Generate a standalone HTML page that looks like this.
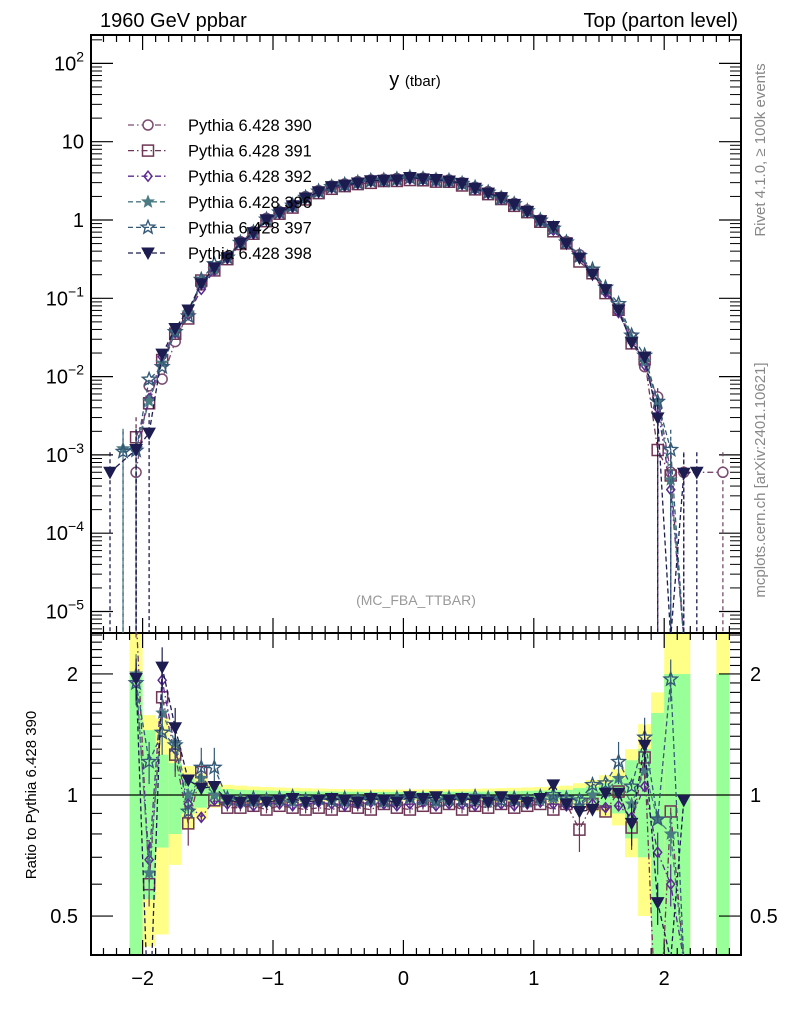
<!DOCTYPE html>
<html><head><meta charset="utf-8"><style>
body{margin:0;background:#fff}
svg{display:block;font-family:"Liberation Sans",sans-serif}
</style></head><body>
<svg id="chart" width="786" height="1024" viewBox="0 0 786 1024" xmlns="http://www.w3.org/2000/svg">
<defs>
<clipPath id="clipMain"><rect x="91" y="35" width="650" height="598"/></clipPath>
<clipPath id="clipRatio"><rect x="91" y="633" width="650" height="322"/></clipPath>
</defs>
<rect x="0" y="0" width="786" height="1024" fill="#fff"/>
<text x="100" y="27" font-size="20">1960 GeV ppbar</text>
<text x="738" y="27" font-size="20" text-anchor="end">Top (parton level)</text>
<text x="415" y="86" font-size="20" text-anchor="middle">y <tspan font-size="15">(tbar)</tspan></text>
<text x="416" y="605" font-size="14" fill="#999" text-anchor="middle">(MC_FBA_TTBAR)</text>
<text transform="translate(765,150) rotate(-90)" font-size="15" fill="#888" text-anchor="middle">Rivet 4.1.0, ≥ 100k events</text>
<text transform="translate(765,480) rotate(-90)" font-size="15" fill="#888" text-anchor="middle">mcplots.cern.ch [arXiv:2401.10621]</text>
<text transform="translate(36,795) rotate(-90)" font-size="15" text-anchor="middle">Ratio to Pythia 6.428 390</text>
<g id="bands" clip-path="url(#clipRatio)"></g>
<g id="axes"></g>
<g id="mainSeries" clip-path="url(#clipMain)"></g>
<g id="ratioSeries" clip-path="url(#clipRatio)"></g>
<g id="legend"></g>
</svg>
<script>
// ---- data ----
const binCenters = [-2.25,-2.15,-2.05,-1.95,-1.85,-1.75,-1.65,-1.55,-1.45,-1.35,-1.25,-1.15,-1.05,-0.95,-0.85,-0.75,-0.65,-0.55,-0.45,-0.35,-0.25,-0.15,-0.05,0.05,0.15,0.25,0.35,0.45,0.55,0.65,0.75,0.85,0.95,1.05,1.15,1.25,1.35,1.45,1.55,1.65,1.75,1.85,1.95,2.05,2.15,2.25,2.35,2.45];
const base390 = [0,0,6e-4,0.0076,0.0093,0.028,0.065,0.148,0.234,0.34,0.53,0.71,1.05,1.28,1.55,1.99,2.37,2.72,2.88,3.09,3.24,3.31,3.39,3.52,3.42,3.32,3.24,3.0,2.62,2.3,1.95,1.63,1.34,1.0,0.78,0.53,0.36,0.22,0.128,0.07,0.032,0.0134,0.0055,6e-4,6e-4,0,0,6e-4];
const r391 = [null,null,2.8,0.6,1.75,1.26,0.85,1.14,0.97,0.93,0.93,0.94,0.92,0.94,0.93,0.92,0.93,0.92,0.94,0.93,0.92,0.95,0.93,0.92,0.94,0.93,0.95,0.92,0.94,0.93,0.95,0.93,0.94,0.95,0.92,0.95,0.82,0.95,0.91,1.02,0.83,1.24,0.21,0.91,0,null,null,null];
const r392 = [null,null,1.9,0.69,1.93,1.3,0.95,0.88,0.97,0.95,0.95,0.94,0.96,0.95,0.94,0.95,0.96,0.95,0.94,0.95,0.96,0.95,0.94,0.95,0.96,0.94,0.95,0.95,0.94,0.96,0.95,0.94,0.95,0.96,0.95,0.94,0.92,0.95,0.93,0.94,0.88,1.05,0.72,0.6,0,null,null,null];
const r396 = [null,null,2.0,0.64,1.6,1.35,1.0,1.1,1.0,0.97,0.97,0.96,0.98,0.97,0.96,0.97,0.98,0.97,0.96,0.98,0.97,0.96,0.97,0.98,0.97,0.96,0.97,0.98,0.97,0.96,0.98,0.97,0.96,0.97,0.98,0.97,0.94,1.0,1.02,1.1,0.95,1.15,0.87,0.8,0,null,null,null];
const r397 = [null,null,1.9,1.21,1.43,1.33,0.91,1.17,1.17,0.98,0.97,0.98,0.97,0.98,0.99,0.97,0.98,0.97,0.98,0.97,0.98,0.97,0.98,0.99,0.98,0.97,0.98,0.97,0.99,0.98,0.97,0.98,0.97,0.99,1.0,0.98,0.97,1.06,1.07,1.21,1.05,1.39,0.87,1.94,0,null,null,null];
const r398 = [null,null,1.95,0.25,2.08,1.47,1.09,1.04,1.05,0.97,0.96,0.97,0.96,0.97,0.98,0.96,0.97,0.98,0.97,0.96,0.98,0.97,0.96,0.99,0.98,0.99,0.97,0.98,0.97,0.96,0.99,0.97,0.96,0.98,1.06,0.95,0.91,0.92,1.01,1.01,0.85,1.33,0.54,0,0.97,null,null,null];
const edge396 = [null,1.2e-3];
const edge397 = [null,1.1e-3];
const edge398 = [6e-4,null,null,null,null,null,null,null,null,null,null,null,null,null,null,null,null,null,null,null,null,null,null,null,null,null,null,null,null,null,null,null,null,null,null,null,null,null,null,null,null,null,null,null,null,6e-4];
const greenErr = [0,0,1.0,0.45,0.26,0.2,0.1,0.07,0.05,0.035,0.03,0.028,0.026,0.024,0.022,0.021,0.02,0.02,0.019,0.019,0.018,0.018,0.018,0.018,0.018,0.018,0.019,0.019,0.02,0.02,0.021,0.022,0.024,0.026,0.028,0.03,0.04,0.05,0.07,0.1,0.22,0.3,0.6,1.0,1.0,0,0,1.0];
const yellowErr = [0,0,1.6,0.58,0.55,0.33,0.18,0.13,0.07,0.06,0.055,0.05,0.047,0.044,0.042,0.04,0.038,0.036,0.035,0.034,0.033,0.033,0.032,0.032,0.033,0.033,0.034,0.035,0.036,0.038,0.04,0.042,0.044,0.047,0.05,0.055,0.07,0.09,0.12,0.16,0.3,0.5,0.8,1.6,1.6,0,0,1.6];
const xTickLabels = ["−2","−1","0","1","2"];
const xTickValues = [-2,-1,0,1,2];
const yMainTickExp = [-5,-4,-3,-2,-1,0,1,2];
const yRatioTicks = [0.5,1,2];

// ---- axes ----
const NS="http://www.w3.org/2000/svg";
const L=91,R=741,T=35,MB=633,RB=955;
const X=v=>403.4+130.4*v;
const YM=v=>v<=0?MB+5:220-78.3*Math.log10(v);
const YR=r=>r<=0?RB+5:795-402*Math.log10(r);
function mk(tag,attrs,parent){const e=document.createElementNS(NS,tag);for(const k in attrs)e.setAttribute(k,attrs[k]);parent.appendChild(e);return e;}
const axes=document.getElementById('axes');
const bands=document.getElementById('bands');

// bands
binCenters.forEach((c,i)=>{
  const x0=X(c-0.05),w=130.4*0.1;
  if(yellowErr[i]>0){
    const hi=YR(1+yellowErr[i]),lo=YR(1-yellowErr[i]);
    const r=mk('rect',{x:x0,y:Math.max(hi,600),width:w,height:Math.min(lo,1000)-Math.max(hi,600),fill:'#ffff88'},bands);
    
    
  }
  if(greenErr[i]>0){
    const hi=YR(1+greenErr[i]),lo=YR(1-greenErr[i]);
    const r=mk('rect',{x:x0,y:hi,width:w,height:Math.min(lo,1000)-hi,fill:'#99ff99'},bands);
    
    
  }
});

// frames
let f=mk('rect',{x:L,y:T,width:R-L,height:MB-T,fill:'none',stroke:'#000','stroke-width':2},axes);


f=mk('rect',{x:L,y:MB,width:R-L,height:RB-MB,fill:'none',stroke:'#000','stroke-width':2},axes);


let one=mk('line',{x1:L,x2:R,y1:YR(1),y2:YR(1),stroke:'#000','stroke-width':1.3},axes);



// x ticks
for(let k=-24;k<=26;k++){
  const v=k/10,x=X(v);if(x<L+1||x>R-1)continue;
  const major=(k%10===0);const len=major?15:7;
  [[T,1],[MB,-1],[MB,1],[RB,-1]].forEach(([y0,d])=>mk('line',{x1:x,x2:x,y1:y0,y2:y0+d*len,stroke:'#000','stroke-width':1.2},axes));
}
xTickValues.forEach((v,i)=>{
  const t=mk('text',{x:X(v),y:985,'font-size':20,'text-anchor':'middle'},axes);
  t.textContent=xTickLabels[i];
  
  
});
// y main ticks
yMainTickExp.forEach(e=>{
  const y=YM(Math.pow(10,e));
  mk('line',{x1:L,x2:L+22,y1:y,y2:y,stroke:'#000','stroke-width':1.2},axes);
  mk('line',{x1:R,x2:R-22,y1:y,y2:y,stroke:'#000','stroke-width':1.2},axes);
  for(let m=2;m<=9;m++){const ym=YM(m*Math.pow(10,e));if(ym<T||ym>MB)continue;
    mk('line',{x1:L,x2:L+11,y1:ym,y2:ym,stroke:'#000','stroke-width':1},axes);
    mk('line',{x1:R,x2:R-11,y1:ym,y2:ym,stroke:'#000','stroke-width':1},axes);}
  const m2=YM(Math.pow(10,e-1)*9);
  const t=mk('text',{x:84,y:y+7,'font-size':20,'text-anchor':'end'},axes);
  
  
  if(e===0)t.textContent='1';else if(e===1)t.textContent='10';
  else{t.textContent='10';const s=mk('tspan',{'font-size':14,dy:-9},t);s.textContent=String(e).replace('-','−');}
});
[9e-6,8e-6,7e-6,6e-6].forEach(v=>{const ym=YM(v);if(ym<MB){mk('line',{x1:L,x2:L+11,y1:ym,y2:ym,stroke:'#000'},axes);mk('line',{x1:R,x2:R-11,y1:ym,y2:ym,stroke:'#000'},axes);}});
// ratio y ticks
for(let k=4;k<=25;k++){const r=k/10,y=YR(r);if(y<=MB+1||y>=RB-1)continue;
  const major=(k===5||k===10||k===20);const len=major?22:11;
  mk('line',{x1:L,x2:L+len,y1:y,y2:y,stroke:'#000','stroke-width':1.1},axes);
  mk('line',{x1:R,x2:R-len,y1:y,y2:y,stroke:'#000','stroke-width':1.1},axes);}
yRatioTicks.forEach(r=>{
  const t=mk('text',{x:78,y:YR(r)+7,'font-size':20,'text-anchor':'end'},axes);t.textContent=String(r);
  
  
  const t2=mk('text',{x:750,y:YR(r)+7,'font-size':20},axes);t2.textContent=String(r);
  
  
});

// ---- series ----
const seriesDefs=[
 {name:'Pythia 6.428 390',ratio:null,edge:[],color:'#7b4a70',marker:'circle',dash:'6,3,1.5,3'},
 {name:'Pythia 6.428 391',ratio:r391,edge:[],color:'#6e3555',marker:'square',dash:'6,3,1.5,3'},
 {name:'Pythia 6.428 392',ratio:r392,edge:[],color:'#5b2a90',marker:'diamond',dash:'6,3,1.5,3'},
 {name:'Pythia 6.428 396',ratio:r396,edge:edge396,color:'#4a7a82',marker:'fstar',dash:'5,3'},
 {name:'Pythia 6.428 397',ratio:r397,edge:edge397,color:'#355a78',marker:'ostar',dash:'5,3'},
 {name:'Pythia 6.428 398',ratio:r398,edge:edge398,color:'#1c1c50',marker:'tri',dash:'5,3'}
];
function starPts(x,y,ro,ri){let p=[];for(let k=0;k<10;k++){const a=-Math.PI/2+k*Math.PI/5,r=k%2?ri:ro;p.push((x+r*Math.cos(a)).toFixed(1)+','+(y+r*Math.sin(a)).toFixed(1));}return p.join(' ');}
function marker(g,type,x,y,c){
  let e;
  if(type==='circle')e=mk('circle',{cx:x,cy:y,r:5,fill:'#fff',stroke:c,'stroke-width':1.5},g);
  else if(type==='square')e=mk('rect',{x:x-5.5,y:y-5.5,width:11,height:11,fill:'none',stroke:c,'stroke-width':1.5},g);
  else if(type==='diamond')e=mk('polygon',{points:`${x},${y-5} ${x+4},${y} ${x},${y+5} ${x-4},${y}`,fill:'none',stroke:c,'stroke-width':1.5},g);
  else if(type==='fstar')e=mk('polygon',{points:starPts(x,y,6,2.6),fill:c,stroke:c},g);
  else if(type==='ostar')e=mk('polygon',{points:starPts(x,y,7,3),fill:'none',stroke:c,'stroke-width':1.4},g);
  else e=mk('polygon',{points:`${x-6},${y-5} ${x+6},${y-5} ${x},${y+6}`,fill:c,stroke:c},g);
  
  
}
const gMain=document.getElementById('mainSeries'),gRatio=document.getElementById('ratioSeries');
seriesDefs.forEach(s=>{
  const main=[],rat=[];
  binCenters.forEach((c,i)=>{
    let v=null,r=null;
    if(s.ratio===null){ if(base390[i]>0){v=base390[i];r=1;} }
    else{
      if(s.ratio[i]!==null && s.ratio[i]!==undefined){r=s.ratio[i];v=base390[i]*r;}
      else if(s.edge[i]){v=s.edge[i];}
    }
    main.push(v);rat.push(r);
  });
  // main line
  let pts=[];
  binCenters.forEach((c,i)=>{if(main[i]!==null)pts.push(X(c).toFixed(1)+','+YM(main[i]).toFixed(1));});
  const pl=mk('polyline',{points:pts.join(' '),fill:'none',stroke:s.color,'stroke-width':1.3,'stroke-dasharray':s.dash},gMain);
  
  
  binCenters.forEach((c,i)=>{const v=main[i];if(v!==null&&v>0){
    if(v<4e-3){const eb=mk('line',{x1:X(c),x2:X(c),y1:YM(v*1.8),y2:MB+5,stroke:s.color,'stroke-width':1.3,'stroke-dasharray':'4,3'},gMain);
      
      }
    marker(gMain,s.marker,X(c),YM(v),s.color);}});
  if(s.ratio===null)return;
  pts=[];
  binCenters.forEach((c,i)=>{if(rat[i]!==null)pts.push(X(c).toFixed(1)+','+YR(rat[i]).toFixed(1));});
  const rl=mk('polyline',{points:pts.join(' '),fill:'none',stroke:s.color,'stroke-width':1.3,'stroke-dasharray':s.dash},gRatio);
  
  
  binCenters.forEach((c,i)=>{const r=rat[i];if(r!==null&&r>0){
    const e=Math.abs(r-1)>0.15?0.12*r:0.02;
    const eb=mk('line',{x1:X(c),x2:X(c),y1:YR(r+e),y2:YR(Math.max(r-e,0.3)),stroke:s.color,'stroke-width':1.2},gRatio);
    
    
    marker(gRatio,s.marker,X(c),YR(r),s.color);}});
});
// legend
const gL=document.getElementById('legend');
seriesDefs.forEach((s,k)=>{
  const y=125+25.6*k;
  const g=mk('g',{},gL);
  
  
  mk('line',{x1:128,x2:168,y1:y,y2:y,stroke:s.color,'stroke-width':1.3,'stroke-dasharray':s.dash},g);
  marker(g,s.marker,148,y,s.color);
  const t=mk('text',{x:188,y:y+6,'font-size':16.5},g);t.textContent=s.name;
});
</script>
</body></html>
